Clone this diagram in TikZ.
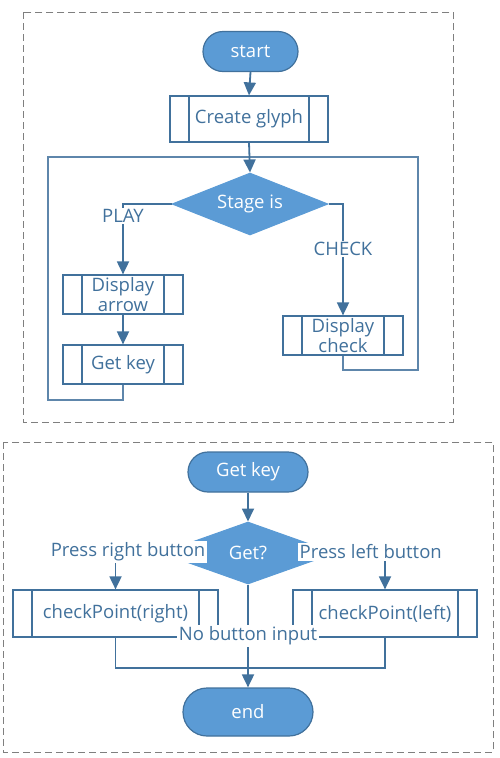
\documentclass[tikz,border=0pt]{standalone}
\usepackage{fontspec}
\setmainfont{Open Sans}
\usetikzlibrary{shapes.geometric,shapes.misc,arrows.meta}

\definecolor{boxblue}{HTML}{5B9BD5}
\definecolor{lineblue}{HTML}{41719C}
\definecolor{framegray}{HTML}{7F7F7F}

\tikzset{
  every node/.style={font=\fontsize{18.5}{20}\selectfont, text=lineblue},
  terminal/.style={rounded rectangle, draw=lineblue, line width=1.2pt, fill=boxblue, text=white, minimum width=#1, minimum height=40pt, inner sep=0pt},
  decision/.style={diamond, aspect=2.5, draw=boxblue, line width=1pt, fill=boxblue, text=white, minimum width=#1, minimum height=62pt, inner sep=1pt},
  subproc/.style={rectangle, draw=lineblue, line width=1.2pt, fill=white, minimum width=#1, align=center, inner sep=0pt,
    path picture={
      \draw[lineblue, line width=1.2pt] ([xshift=19pt]path picture bounding box.north west) -- ([xshift=19pt]path picture bounding box.south west);
      \draw[lineblue, line width=1.2pt] ([xshift=-19pt]path picture bounding box.north east) -- ([xshift=-19pt]path picture bounding box.south east);
    }},
  flow/.style={draw=lineblue, line width=1.8pt, -{Triangle[width=12pt,length=13pt]}},
  joinline/.style={draw=lineblue, line width=1.8pt},
  loopline/.style={draw=lineblue!85, line width=2pt},
  branch/.style={fill=white, inner sep=1.5pt},
  frame/.style={draw=framegray, line width=1pt, dash pattern=on 7pt off 4pt}
}

\begin{document}
\begin{tikzpicture}[x=1pt, y=-1pt]
\useasboundingbox (0,0) rectangle (499,758);

% Dashed frames
\draw[frame] (23.3,12.3) rectangle (453.3,422.3);
\draw[frame] (3.3,442.3) rectangle (493.3,752.3);

% Upper chart: the nodes
\node[terminal=95pt] (start) at (250.5,51.5) {start};
\node[subproc=158pt, minimum height=46pt] (glyph) at (249,119) {Create glyph};
\node[decision=156pt] (stage) at (250,204) {Stage is};
\node[subproc=120pt, minimum height=39pt] (darrow) at (123,294.5) {Display\\arrow};
\node[subproc=120pt, minimum height=39pt] (getkey) at (123,364.5) {Get key};
\node[subproc=120pt, minimum height=39pt] (dcheck) at (343,335.5) {Display\\check};
\coordinate (loopL) at (48,157);
\coordinate (loopR) at (418,370);

% Upper chart: the connectors
\draw[flow] (start.south) -- (glyph.north);
\draw[loopline] (getkey.south) -- ++(0,15) -| (loopL) -| (loopR) -| (dcheck.south);
\draw[flow] (glyph.south) -- (stage.north);
\draw[flow] (stage.west) -| (darrow.north);
\draw[flow] (stage.east) -| (dcheck.north);
\draw[flow] (darrow.south) -- (getkey.north);
\node[branch] (play) at (123,216) {PLAY};
\node[branch] (check) at (343,249) {CHECK};

% Lower chart: the nodes
\node[terminal=120pt] (key) at (248,472) {Get key};
\node[decision=174pt, aspect=2.8] (get) at (248,553) {Get?};
\node[subproc=205pt, minimum height=47pt] (cpright) at (115.5,613.5) {checkPoint(right)};
\node[subproc=184pt, minimum height=47pt] (cpleft) at (385,613.5) {checkPoint(left)};
\node[terminal=130pt, minimum height=48pt] (end) at (248,712) {end};

% Lower chart: the connectors
\draw[flow] (key.south) -- (get.north);
\draw[flow] (get.west) -| (cpright.north);
\draw[flow] (get.east) -| (cpleft.north);
\draw[joinline] (cpright.south) -- ++(0,30) -| (cpleft.south);
\draw[flow] (get.south) -- (end.north);
\node[branch, anchor=east] (pressr) at (207,552) {Press right button};
\node[branch, anchor=west] (pressl) at (298,552) {Press left button};
\node[branch] (nobutton) at (248,636) {No button input};
\end{tikzpicture}
\end{document}
